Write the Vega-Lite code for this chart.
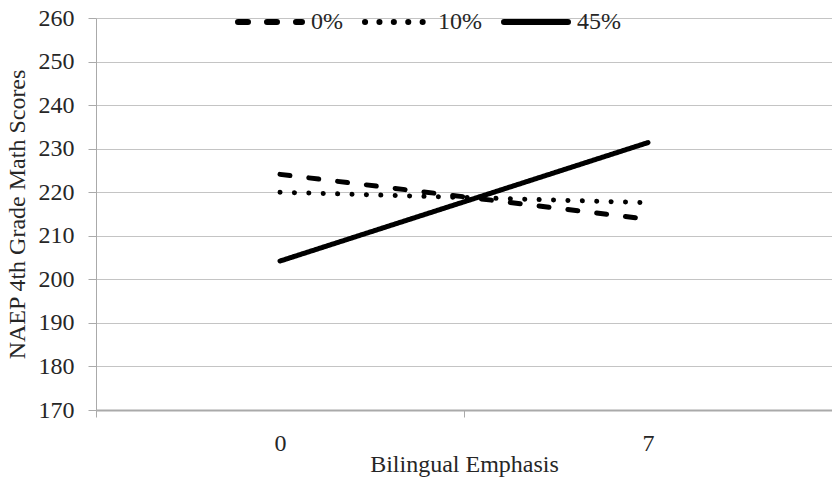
{
  "$schema": "https://vega.github.io/schema/vega-lite/v6.json",
  "width": 736,
  "height": 392,
  "autosize": {"type": "none"},
  "padding": {"left": 96, "top": 18, "right": 0, "bottom": 73},
  "background": "white",
  "config": {
    "font": "Liberation Serif",
    "axis": {"labelFont": "Liberation Serif", "titleFont": "Liberation Serif"},
    "legend": {"labelFont": "Liberation Serif", "titleFont": "Liberation Serif"},
    "view": {"stroke": null}
  },
  "data": {
    "values": [
      {"emphasis": "0", "group": "0%", "score": 224.1},
      {"emphasis": "7", "group": "0%", "score": 213.8},
      {"emphasis": "0", "group": "10%", "score": 220.0},
      {"emphasis": "7", "group": "10%", "score": 217.6},
      {"emphasis": "0", "group": "45%", "score": 204.2},
      {"emphasis": "7", "group": "45%", "score": 231.4}
    ]
  },
  "mark": {"type": "line", "strokeWidth": 5, "strokeCap": "round", "color": "black"},
  "encoding": {
    "x": {
      "field": "emphasis",
      "type": "ordinal",
      "scale": {"paddingInner": 0, "paddingOuter": 0},
      "axis": {
        "title": "Bilingual Emphasis",
        "titleFont": "Liberation Serif",
        "titleFontSize": 24,
        "titleFontWeight": "normal",
        "titleColor": "#262626",
        "titlePadding": -3,
        "labelAngle": 0,
        "labelFont": "Liberation Serif",
        "labelFontSize": 24,
        "labelColor": "#262626",
        "labelPadding": 14,
        "tickBand": "extent",
        "tickColor": "#aaa",
        "tickSize": 7,
        "domainColor": "#aaa",
        "domainWidth": 2
      }
    },
    "y": {
      "field": "score",
      "type": "quantitative",
      "scale": {"domain": [170, 260], "nice": false, "zero": false},
      "axis": {
        "title": "NAEP 4th Grade Math Scores",
        "titleFont": "Liberation Serif",
        "titleFontSize": 24,
        "titleFontWeight": "normal",
        "titleColor": "#262626",
        "titlePadding": 9,
        "values": [170, 180, 190, 200, 210, 220, 230, 240, 250, 260],
        "labelFont": "Liberation Serif",
        "labelFontSize": 24,
        "labelColor": "#262626",
        "labelPadding": 14,
        "tickColor": "#aaa",
        "tickSize": 8,
        "domainColor": "#aaa",
        "gridColor": "#c4c4c4",
        "gridWidth": 1.2
      }
    },
    "strokeDash": {
      "field": "group",
      "type": "nominal",
      "scale": {"domain": ["0%", "10%", "45%"], "range": [[10, 19], [0.1, 14.3], [1, 0]]},
      "legend": {
        "title": null,
        "orient": "none",
        "direction": "horizontal",
        "legendX": 139,
        "legendY": -31,
        "symbolType": "stroke",
        "symbolSize": 4096,
        "symbolStrokeWidth": 6,
        "symbolStrokeColor": "black",
        "labelFont": "Liberation Serif",
        "labelFontSize": 24,
        "labelColor": "#262626",
        "labelOffset": 6,
        "columnPadding": 10,
        "encoding": {
          "symbols": {"strokeCap": {"value": "round"}}
        }
      }
    }
  }
}
